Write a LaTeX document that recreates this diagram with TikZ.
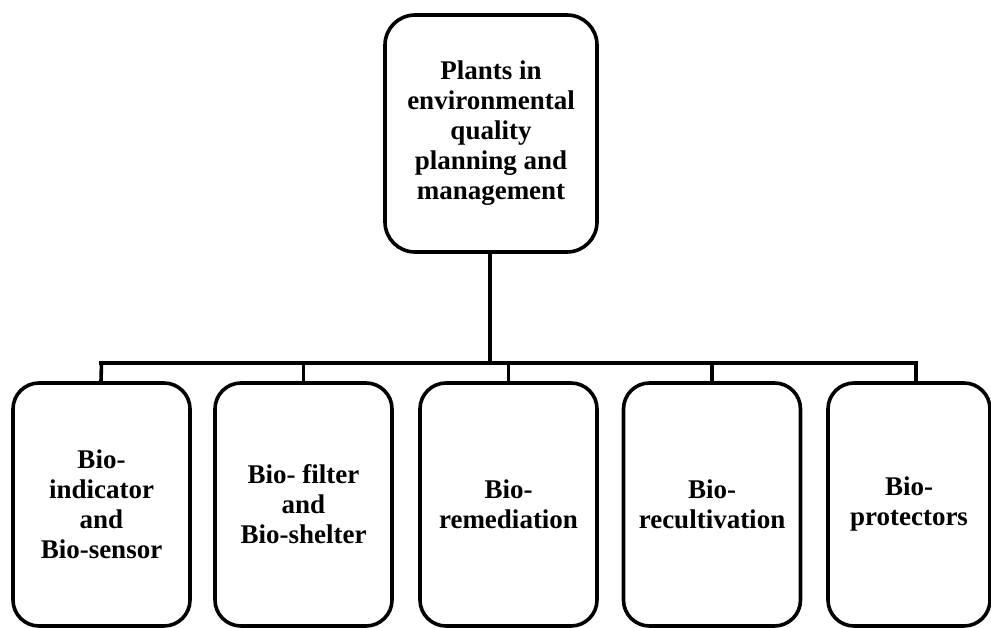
\documentclass[tikz,border=0pt]{standalone}
\usepackage{fontspec}
\setmainfont{Liberation Serif}
\begin{document}
\begin{tikzpicture}[x=1pt,y=-1pt,
  box/.style={draw=black,line width=3.6pt,rounded corners=26pt,align=center,
    font=\fontsize{27}{30}\selectfont\bfseries,inner sep=0pt,
    minimum width=177pt,minimum height=243pt},
  topbox/.style={box,rounded corners=30pt,minimum width=212pt,minimum height=237pt},
  link/.style={line width=3.6pt,line cap=rect}]
\useasboundingbox (0,0) rectangle (991,628);
\node[topbox] (top) at (491,133.5) {Plants in\\environmental\\quality\\planning and\\management};
\node[box] (b1) at (101.5,504.5) {Bio-\\indicator\\and\\Bio-sensor};
\node[box] (b2) at (303.5,504.5) {Bio- filter\\and\\Bio-shelter};
\node[box] (b3) at (508.5,504.5) {Bio-\\remediation};
\node[box] (b4) at (712,504.5) {Bio-\\recultivation};
\node[box,minimum width=162pt] (b5) at (909,504.5) {Bio-\\protectors};
\coordinate (hub) at (490,363);
\coordinate (left) at (101,363);
\coordinate (right) at (916,363);
\draw[link] (top.south -| hub) -- (hub);
\draw[link] (left) -- (right);
\draw[line width=3.6pt] ([xshift=-0.5pt]b1.north) -- (b1.north |- hub);
\draw[line width=3.6pt] (b2.north) -- (b2.north |- hub);
\draw[line width=3.6pt] (b3.north) -- (b3.north |- hub);
\draw[line width=3.6pt] (b4.north) -- (b4.north |- hub);
\draw[line width=3.6pt] ([xshift=7pt]b5.north) -- (right);
\end{tikzpicture}
\end{document}
